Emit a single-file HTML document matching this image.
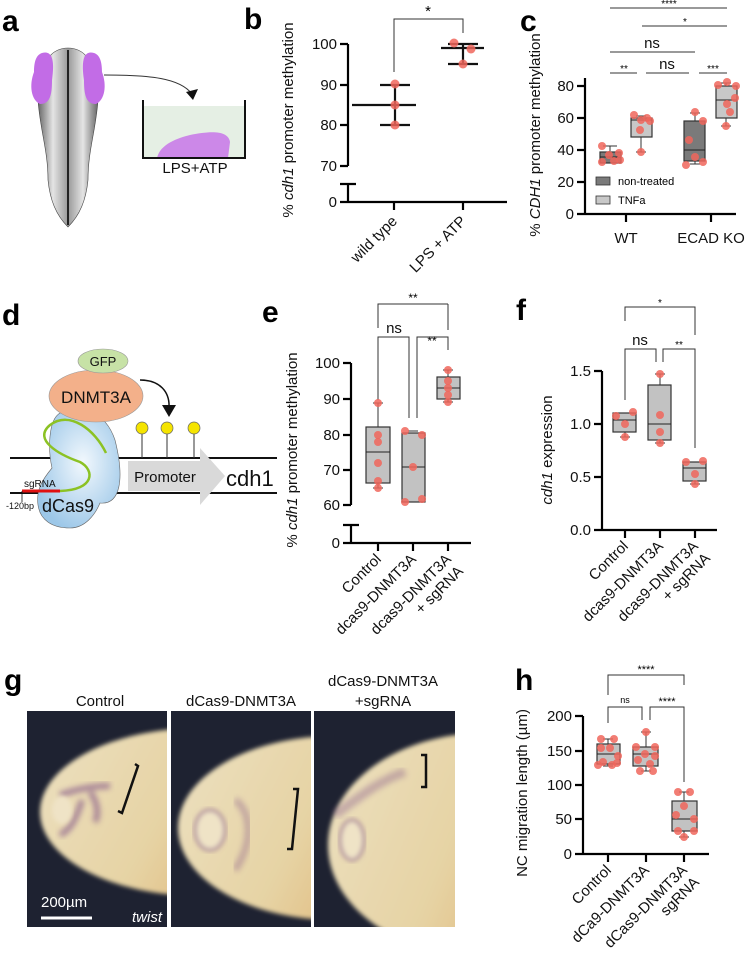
<!DOCTYPE html>
<html><head><meta charset="utf-8"><style>
html,body{margin:0;padding:0;background:#fff;}
svg{display:block;font-family:"Liberation Sans",Arial,sans-serif;}
.ax{stroke:#000;stroke-width:2.2;fill:none}
.br{stroke:#333;stroke-width:1;fill:none}
.bx{stroke:#333;stroke-width:1.2}
.d{fill:#f0665c;fill-opacity:.85}
.t{font-size:15px;fill:#111}
.L{font-size:30px;font-weight:bold;fill:#000}
</style></head><body>
<svg width="748" height="959" viewBox="0 0 748 959">
<defs>
<radialGradient id="cas" cx="0.55" cy="0.45" r="0.6"><stop offset="0" stop-color="#f2f8fd"/><stop offset="1" stop-color="#9cc7e8"/></radialGradient>
<linearGradient id="emb" x1="0" x2="1"><stop offset="0" stop-color="#666"/><stop offset=".25" stop-color="#e4e4e4"/><stop offset=".5" stop-color="#999"/><stop offset=".75" stop-color="#e4e4e4"/><stop offset="1" stop-color="#666"/></linearGradient>
<linearGradient id="egg" x1="0" x2="1" y1="0" y2="0.3"><stop offset="0" stop-color="#ece0c0"/><stop offset=".5" stop-color="#e6d3a4"/><stop offset="1" stop-color="#dca862"/></linearGradient>
<filter id="bl"><feGaussianBlur stdDeviation="3"/></filter>
<filter id="bl2"><feGaussianBlur stdDeviation="2"/></filter>
</defs>
<!-- letters -->
<text x="2" y="31" class="L">a</text>
<text x="244" y="29" class="L">b</text>
<text x="520" y="31" class="L">c</text>
<text x="2" y="325" class="L">d</text>
<text x="262" y="322" class="L">e</text>
<text x="516" y="320" class="L">f</text>
<text x="4" y="690" class="L">g</text>
<text x="515" y="690" class="L">h</text>

<!-- panel a -->
<path d="M68 48 C80 48 98 56 98 100 C96 130 88 150 88 180 C86 200 80 215 68 227 C56 215 50 200 48 180 C48 150 40 130 38 100 C38 56 56 48 68 48Z" fill="url(#emb)" stroke="#444" stroke-width=".6"/>
<line x1="68" y1="50" x2="68" y2="225" stroke="#222" stroke-width="2"/>
<path d="M42 53 C52 50 55 60 52 80 C52 95 50 104 40 104 C31 100 29 85 34 72 C34 62 36 55 42 53Z" fill="#c26ce6"/>
<path d="M94 53 C84 50 81 60 84 80 C84 95 86 104 96 104 C105 100 107 85 102 72 C102 62 100 55 94 53Z" fill="#c26ce6"/>
<path d="M104 75 C150 75 180 78 192 94" class="br" stroke="#222" stroke-width="1.2"/>
<path d="M186 92 L193 100 L198 89Z" fill="#111"/>
<rect x="143" y="106" width="102" height="52" fill="#e5efe4"/>
<path d="M157 158 C160 144 178 138 190 135 C210 131 228 130 230 142 L228 158Z" fill="#cc88e8"/>
<path d="M143 100 V158 H245 V100" fill="none" stroke="#111" stroke-width="2"/>
<text x="195" y="173" text-anchor="middle" class="t">LPS+ATP</text>

<!-- panel b -->
<text transform="translate(293,120) rotate(-90)" text-anchor="middle" class="t">% <tspan font-style="italic">cdh1</tspan> promoter methylation</text>
<path class="ax" d="M348 44 V166 M340 44 H348 M340 85 H348 M340 125 H348 M340 166 H348 M348 184 V202 H507 M340 184 H356 M340 202 H348 M394 202 V210 M463 202 V210"/>
<g class="t" text-anchor="end"><text x="337" y="49">100</text><text x="337" y="90">90</text><text x="337" y="130">80</text><text x="337" y="171">70</text><text x="337" y="207">0</text></g>
<text transform="translate(398,222) rotate(-45)" text-anchor="end" class="t">wild type</text>
<text transform="translate(467,222) rotate(-45)" text-anchor="end" class="t">LPS + ATP</text>
<path class="br" d="M394 72 V19 H463 V33"/><text x="428" y="16" text-anchor="middle" font-size="15">*</text>
<path stroke="#111" stroke-width="2.2" d="M395 85 V125 M380 85 H410 M380 125 H410 M352 105 H416 M463 44 V64 M448 44 H478 M448 64 H478 M441 48 H484"/>
<circle class="d" cx="395" cy="84" r="4.5"/><circle class="d" cx="395" cy="105" r="4.5"/><circle class="d" cx="395" cy="125" r="4.5"/>
<circle class="d" cx="454" cy="43" r="4.5"/><circle class="d" cx="471" cy="49" r="4.5"/><circle class="d" cx="463" cy="64" r="4.5"/>

<!-- panel c -->
<text transform="translate(540,135) rotate(-90)" text-anchor="middle" class="t">% <tspan font-style="italic">CDH1</tspan> promoter methylation</text>
<path class="ax" d="M585 78 V214 H736 M577 86 H585 M577 118 H585 M577 150 H585 M577 182 H585 M577 214 H585 M626 214 V222 M711 214 V222"/>
<g class="t" text-anchor="end"><text x="574" y="91">80</text><text x="574" y="123">60</text><text x="574" y="155">40</text><text x="574" y="187">20</text><text x="574" y="219">0</text></g>
<text x="626" y="243" text-anchor="middle" class="t">WT</text><text x="711" y="243" text-anchor="middle" class="t">ECAD KO</text>
<g class="br"><path d="M610 8 H727 M642 26 H727 M610 52 H695 M610 73 H637 M646 73 H689 M699 73 H727"/></g>
<g font-size="10" text-anchor="middle"><text x="669" y="7">****</text><text x="685" y="25">*</text><text x="624" y="72">**</text><text x="713" y="72">***</text></g>
<text x="652" y="48" text-anchor="middle" class="t">ns</text><text x="667" y="69" text-anchor="middle" class="t">ns</text>
<g class="br">
<path d="M610 146 V152 M603 146 H617"/>
<rect x="600" y="152" width="21" height="11" fill="#7a7a7a" class="bx"/><line x1="600" y1="157" x2="621" y2="157" stroke="#222"/>
<path d="M641 116 V124 M641 137 V152 M636 116 H646 M636 152 H646"/>
<rect x="631" y="118" width="21" height="19" fill="#c8c8c8" class="bx"/><line x1="631" y1="120" x2="652" y2="120" stroke="#222"/>
<path d="M695 113 V121 M695 161 V164 M690 113 H700 M690 164 H700"/>
<rect x="684" y="121" width="21" height="40" fill="#7a7a7a" class="bx"/><line x1="684" y1="150" x2="705" y2="150" stroke="#222"/>
<path d="M726 83 V86 M726 118 V126 M721 83 H731 M721 126 H731"/>
<rect x="716" y="86" width="21" height="32" fill="#c8c8c8" class="bx"/><line x1="716" y1="100" x2="737" y2="100" stroke="#222"/>
</g>
<g class="d"><circle cx="602" cy="146" r="4"/><circle cx="602" cy="162" r="4"/><circle cx="609" cy="155" r="4"/><circle cx="614" cy="161" r="4"/><circle cx="619" cy="153" r="4"/><circle cx="620" cy="160" r="4"/>
<circle cx="634" cy="115" r="4"/><circle cx="641" cy="120" r="4"/><circle cx="647" cy="118" r="4"/><circle cx="650" cy="121" r="4"/><circle cx="640" cy="130" r="4"/><circle cx="641" cy="152" r="4"/>
<circle cx="695" cy="112" r="4"/><circle cx="686" cy="165" r="4"/><circle cx="703" cy="121" r="4"/><circle cx="689" cy="140" r="4"/><circle cx="703" cy="162" r="4"/><circle cx="695" cy="157" r="4"/>
<circle cx="718" cy="85" r="4"/><circle cx="727" cy="82" r="4"/><circle cx="736" cy="86" r="4"/><circle cx="735" cy="98" r="4"/><circle cx="727" cy="104" r="4"/><circle cx="730" cy="112" r="4"/><circle cx="726" cy="126" r="4"/></g>
<rect x="596" y="177" width="14" height="8" fill="#7a7a7a" stroke="#333" stroke-width=".8"/><text x="618" y="185" font-size="11">non-treated</text>
<rect x="596" y="196" width="14" height="8" fill="#c8c8c8" stroke="#333" stroke-width=".8"/><text x="618" y="204" font-size="11">TNFa</text>

<!-- panel d -->
<line x1="10" y1="458" x2="277" y2="458" stroke="#111" stroke-width="2"/>
<line x1="10" y1="493" x2="277" y2="493" stroke="#111" stroke-width="2"/>
<path d="M128 461 H200 V448 L225 476 L200 505 V491 H128Z" fill="#d9d9d9"/>
<text x="165" y="482" text-anchor="middle" class="t">Promoter</text>
<text x="226" y="486" font-size="22" fill="#111">cdh1</text>
<path d="M60 413 C80 405 105 410 115 440 C125 480 120 505 100 503 C95 515 85 528 70 528 C52 528 40 520 38 505 C36 490 42 480 52 468 C48 450 48 420 60 413Z" fill="url(#cas)" stroke="#666" stroke-width=".6"/>
<ellipse cx="96" cy="396" rx="47" ry="26" fill="#f3b08a" stroke="#999" stroke-width=".6"/>
<text x="96" y="403" text-anchor="middle" font-size="17" fill="#111">DNMT3A</text>
<ellipse cx="103" cy="361" rx="25" ry="12" fill="#c7e2a6" stroke="#999" stroke-width=".6"/>
<text x="103" y="366" text-anchor="middle" font-size="13" fill="#111">GFP</text>
<path d="M106 453 C95 430 70 410 50 425 C32 440 60 455 80 462 C95 470 95 490 60 491" fill="none" stroke="#8cc224" stroke-width="2.5"/>
<line x1="22" y1="491" x2="60" y2="491" stroke="#e01010" stroke-width="3"/>
<line x1="22" y1="491" x2="22" y2="502" stroke="#111" stroke-width=".8"/>
<text x="24" y="487" font-size="10" fill="#111">sgRNA</text>
<text x="6" y="509" font-size="9" fill="#111">-120bp</text>
<text x="42" y="512" font-size="18" fill="#111">dCas9</text>
<g stroke="#333" stroke-width="1"><line x1="142" y1="429" x2="142" y2="458"/><line x1="167" y1="429" x2="167" y2="458"/><line x1="194" y1="429" x2="194" y2="458"/></g>
<g fill="#f5e400" stroke="#666" stroke-width=".7"><circle cx="142" cy="428" r="6"/><circle cx="167" cy="428" r="6"/><circle cx="194" cy="428" r="6"/></g>
<path d="M140 380 C160 380 170 392 169 408" fill="none" stroke="#111" stroke-width="1.5"/>
<path d="M162 405 L169 417 L176 405Z" fill="#111"/>

<!-- panel e -->
<text transform="translate(297,450) rotate(-90)" text-anchor="middle" class="t">% <tspan font-style="italic">cdh1</tspan> promoter methylation</text>
<path class="ax" d="M351 363 V505 M343 363 H351 M343 399 H351 M343 435 H351 M343 470 H351 M343 505 H351 M351 525 V543 H471 M343 525 H359 M343 543 H351 M378 543 V551 M413 543 V551 M448 543 V551"/>
<g class="t" text-anchor="end"><text x="340" y="368">100</text><text x="340" y="404">90</text><text x="340" y="440">80</text><text x="340" y="475">70</text><text x="340" y="510">60</text><text x="340" y="548">0</text></g>
<g class="t" text-anchor="end"><text transform="translate(382,560) rotate(-45)">Control</text><text transform="translate(417,560) rotate(-45)">dcas9-DNMT3A</text><text transform="translate(452,560) rotate(-45)">dcas9-DNMT3A</text><text transform="translate(464,572) rotate(-45)">+ sgRNA</text></g>
<path class="br" d="M378 328 V304 H448 M448 304 V330 M378 400 V337 H409 V418 M417 418 V337 H448 V350"/>
<text x="413" y="302" text-anchor="middle" font-size="12">**</text>
<text x="394" y="333" text-anchor="middle" class="t">ns</text><text x="432" y="345" text-anchor="middle" font-size="12">**</text>
<g class="br"><path d="M378 403 V427 M378 483 V488 M373 403 H383 M373 488 H383"/><rect x="366" y="427" width="24" height="56" fill="#c2c2c2" class="bx"/><line x1="366" y1="452" x2="390" y2="452" stroke="#222"/>
<path d="M408 431 H418 M408 502 H418"/><rect x="402" y="433" width="23" height="69" fill="#c2c2c2" class="bx"/><line x1="402" y1="467" x2="425" y2="467" stroke="#222"/>
<path d="M448 370 V377 M448 399 V402 M443 370 H453 M443 402 H453"/><rect x="437" y="377" width="23" height="22" fill="#c2c2c2" class="bx"/><line x1="437" y1="388" x2="460" y2="388" stroke="#222"/></g>
<g class="d"><circle cx="378" cy="403" r="4"/><circle cx="378" cy="435" r="4"/><circle cx="378" cy="442" r="4"/><circle cx="378" cy="463" r="4"/><circle cx="378" cy="481" r="4"/><circle cx="378" cy="488" r="4"/>
<circle cx="405" cy="431" r="4"/><circle cx="422" cy="435" r="4"/><circle cx="413" cy="467" r="4"/><circle cx="405" cy="502" r="4"/><circle cx="422" cy="499" r="4"/>
<circle cx="448" cy="370" r="4"/><circle cx="448" cy="381" r="4"/><circle cx="448" cy="388" r="4"/><circle cx="448" cy="395" r="4"/><circle cx="448" cy="402" r="4"/></g>

<!-- panel f -->
<text transform="translate(552,450) rotate(-90)" text-anchor="middle" class="t"><tspan font-style="italic">cdh1</tspan> expression</text>
<path class="ax" d="M602 371 V530 H717 M594 371 H602 M594 424 H602 M594 477 H602 M594 530 H602 M625 530 V538 M660 530 V538 M695 530 V538"/>
<g class="t" text-anchor="end"><text x="591" y="376">1.5</text><text x="591" y="429">1.0</text><text x="591" y="482">0.5</text><text x="591" y="535">0.0</text></g>
<g class="t" text-anchor="end"><text transform="translate(629,547) rotate(-45)">Control</text><text transform="translate(664,547) rotate(-45)">dcas9-DNMT3A</text><text transform="translate(699,547) rotate(-45)">dcas9-DNMT3A</text><text transform="translate(711,559) rotate(-45)">+ sgRNA</text></g>
<path class="br" d="M625 321 V307 H695 V335 M625 400 V349 H656 V362 M663 362 V349 H695 V448"/>
<text x="660" y="306" text-anchor="middle" font-size="10">*</text><text x="640" y="345" text-anchor="middle" class="t">ns</text><text x="679" y="348" text-anchor="middle" font-size="10">**</text>
<g class="br"><path d="M625 432 V437 M620 437 H630"/><rect x="613" y="413" width="23" height="19" fill="#c2c2c2" class="bx"/><line x1="613" y1="420" x2="636" y2="420" stroke="#222"/>
<path d="M660 374 V385 M660 440 V443 M655 374 H665 M655 443 H665"/><rect x="648" y="385" width="23" height="55" fill="#c2c2c2" class="bx"/><line x1="648" y1="424" x2="671" y2="424" stroke="#222"/>
<path d="M695 481 V484 M690 484 H700"/><rect x="683" y="462" width="23" height="19" fill="#c2c2c2" class="bx"/><line x1="683" y1="468" x2="706" y2="468" stroke="#222"/></g>
<g class="d"><circle cx="616" cy="416" r="4"/><circle cx="633" cy="412" r="4"/><circle cx="625" cy="424" r="4"/><circle cx="625" cy="437" r="4"/>
<circle cx="660" cy="374" r="4"/><circle cx="660" cy="415" r="4"/><circle cx="660" cy="432" r="4"/><circle cx="660" cy="443" r="4"/>
<circle cx="686" cy="462" r="4"/><circle cx="703" cy="461" r="4"/><circle cx="695" cy="474" r="4"/><circle cx="695" cy="484" r="4"/></g>

<!-- panel g -->
<g class="t" text-anchor="middle"><text x="100" y="706">Control</text><text x="241" y="706">dCas9-DNMT3A</text><text x="383" y="686">dCas9-DNMT3A</text><text x="383" y="706">+sgRNA</text></g>
<rect x="27" y="711" width="140" height="216" fill="#1e2231"/>
<rect x="171" y="711" width="140" height="216" fill="#1e2231"/>
<rect x="314" y="711" width="141" height="216" fill="#1e2231"/>
<clipPath id="c1"><rect x="27" y="711" width="140" height="216"/></clipPath>
<clipPath id="c2"><rect x="171" y="711" width="140" height="216"/></clipPath>
<clipPath id="c3"><rect x="314" y="711" width="141" height="216"/></clipPath>
<g clip-path="url(#c1)"><ellipse cx="200" cy="812" rx="160" ry="84" fill="url(#egg)" filter="url(#bl2)"/>
<g filter="url(#bl)" opacity=".6"><path d="M60 795 C75 790 90 786 110 786 M60 835 C70 830 76 820 82 800 M90 792 C96 800 100 812 95 822" stroke="#7d4e86" stroke-width="6" fill="none"/></g>
<ellipse cx="62" cy="810" rx="10" ry="14" fill="#efe3c6" filter="url(#bl2)"/>
<path d="M135 764 L138 766 L122 813 L118 811" stroke="#111" stroke-width="2.5" fill="none"/>
<line x1="41" y1="918" x2="92" y2="918" stroke="#fff" stroke-width="3"/>
<text x="41" y="907" font-size="15" fill="#fff">200µm</text>
<text x="162" y="922" font-size="15" fill="#fff" font-style="italic" text-anchor="end">twist</text></g>
<g clip-path="url(#c2)"><ellipse cx="335" cy="828" rx="157" ry="92" fill="url(#egg)" filter="url(#bl2)"/>
<ellipse cx="210" cy="830" rx="15" ry="20" fill="#efe3c6" stroke="#8a5a8a" stroke-width="4" stroke-opacity=".5" filter="url(#bl2)"/>
<path d="M235 800 C250 810 255 840 235 870" stroke="#7d4e86" stroke-width="7" fill="none" opacity=".35" filter="url(#bl)"/>
<path d="M293 789 L298 789 L292 849 L287 849" stroke="#111" stroke-width="2.5" fill="none"/></g>
<g clip-path="url(#c3)"><ellipse cx="485" cy="845" rx="157" ry="112" fill="url(#egg)" filter="url(#bl2)"/>
<ellipse cx="352" cy="840" rx="12" ry="20" fill="#efe3c6" stroke="#8a5a8a" stroke-width="4" stroke-opacity=".5" filter="url(#bl2)"/>
<path d="M335 815 C355 800 380 780 405 772" stroke="#7d4e86" stroke-width="9" fill="none" opacity=".35" filter="url(#bl)"/>
<path d="M421 755 L426 755 L426 787 L421 787" stroke="#111" stroke-width="2.5" fill="none"/></g>

<!-- panel h -->
<text transform="translate(527,793) rotate(-90)" text-anchor="middle" class="t">NC migration length (µm)</text>
<path class="ax" d="M583 716 V854 H709 M575 716 H583 M575 751 H583 M575 785 H583 M575 819 H583 M575 854 H583 M608 854 V862 M646 854 V862 M684 854 V862"/>
<g class="t" text-anchor="end"><text x="572" y="721">200</text><text x="572" y="756">150</text><text x="572" y="790">100</text><text x="572" y="824">50</text><text x="572" y="859">0</text></g>
<g class="t" text-anchor="end"><text transform="translate(612,871) rotate(-45)">Control</text><text transform="translate(650,871) rotate(-45)">dCa9-DNMT3A</text><text transform="translate(688,871) rotate(-45)">dCas9-DNMT3A</text><text transform="translate(700,883) rotate(-45)">sgRNA</text></g>
<path class="br" d="M608 695 V675 H684 V685 M608 723 V707 H642 V720 M650 720 V707 H684 V782"/>
<text x="646" y="673" text-anchor="middle" font-size="11">****</text><text x="625" y="703" text-anchor="middle" font-size="9">ns</text><text x="667" y="705" text-anchor="middle" font-size="11">****</text>
<g class="br"><path d="M608 739 V744 M608 764 V766 M603 739 H613 M603 766 H613"/><rect x="597" y="744" width="23" height="20" fill="#c2c2c2" class="bx"/><line x1="597" y1="754" x2="620" y2="754" stroke="#222"/>
<path d="M646 732 V747 M646 766 V771 M641 732 H651 M641 771 H651"/><rect x="633" y="747" width="25" height="19" fill="#c2c2c2" class="bx"/><line x1="633" y1="754" x2="658" y2="754" stroke="#222"/>
<path d="M684 792 V801 M684 831 V837 M679 792 H689 M679 837 H689"/><rect x="672" y="801" width="25" height="30" fill="#c2c2c2" class="bx"/><line x1="672" y1="819" x2="697" y2="819" stroke="#222"/></g>
<g class="d"><circle cx="601" cy="739" r="4"/><circle cx="614" cy="739" r="4"/><circle cx="601" cy="748" r="4"/><circle cx="610" cy="748" r="4"/><circle cx="618" cy="756" r="4"/><circle cx="603" cy="762" r="4"/><circle cx="612" cy="765" r="4"/><circle cx="598" cy="765" r="4"/><circle cx="617" cy="763" r="4"/>
<circle cx="646" cy="732" r="4"/><circle cx="636" cy="747" r="4"/><circle cx="655" cy="747" r="4"/><circle cx="645" cy="754" r="4"/><circle cx="655" cy="756" r="4"/><circle cx="638" cy="760" r="4"/><circle cx="650" cy="764" r="4"/><circle cx="640" cy="771" r="4"/><circle cx="653" cy="771" r="4"/>
<circle cx="678" cy="792" r="4"/><circle cx="690" cy="792" r="4"/><circle cx="684" cy="806" r="4"/><circle cx="676" cy="815" r="4"/><circle cx="694" cy="819" r="4"/><circle cx="678" cy="831" r="4"/><circle cx="694" cy="831" r="4"/><circle cx="684" cy="837" r="4"/></g>
</svg>
</body></html>
